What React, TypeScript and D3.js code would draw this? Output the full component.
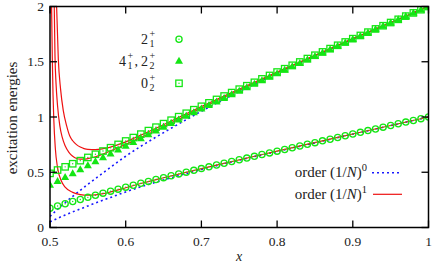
import React from 'react';
import * as d3 from 'd3';

// x grid of the marker series
const xGrid = [
  0.50, 0.51, 0.52, 0.53, 0.54, 0.55, 0.56, 0.57, 0.58, 0.59,
  0.60, 0.61, 0.62, 0.63, 0.64, 0.65, 0.66, 0.67, 0.68, 0.69,
  0.70, 0.71, 0.72, 0.73, 0.74, 0.75, 0.76, 0.77, 0.78, 0.79,
  0.80, 0.81, 0.82, 0.83, 0.84, 0.85, 0.86, 0.87, 0.88, 0.89,
  0.90, 0.91, 0.92, 0.93, 0.94, 0.95, 0.96, 0.97, 0.98, 0.99, 1.00,
];

// 2_1^+ (circles)
const state21 = [
  0.174, 0.195, 0.215, 0.235, 0.254, 0.273, 0.292, 0.311, 0.329, 0.347,
  0.365, 0.383, 0.400, 0.417, 0.434, 0.451, 0.468, 0.485, 0.501, 0.517,
  0.533, 0.549, 0.565, 0.581, 0.597, 0.613, 0.628, 0.644, 0.660, 0.675,
  0.691, 0.706, 0.722, 0.737, 0.753, 0.768, 0.784, 0.799, 0.815, 0.830,
  0.846, 0.861, 0.877, 0.892, 0.908, 0.923, 0.939, 0.954, 0.969, 0.985, 1.000,
];

// 4_1^+, 2_2^+ (triangles)
const state41 = [
  0.385, 0.420, 0.455, 0.490, 0.526, 0.562, 0.597, 0.633, 0.668, 0.703,
  0.738, 0.773, 0.807, 0.842, 0.876, 0.909, 0.943, 0.976, 1.009, 1.042,
  1.075, 1.107, 1.139, 1.171, 1.203, 1.235, 1.267, 1.299, 1.331, 1.362,
  1.394, 1.425, 1.457, 1.488, 1.519, 1.550, 1.581, 1.612, 1.642, 1.673,
  1.703, 1.733, 1.764, 1.794, 1.824, 1.854, 1.883, 1.913, 1.942, 1.971, 2.000,
];

// 0_2^+ (squares)
const state02 = [
  0.490, 0.520, 0.549, 0.577, 0.605, 0.634, 0.663, 0.692, 0.722, 0.752,
  0.783, 0.814, 0.845, 0.877, 0.908, 0.940, 0.971, 1.003, 1.034, 1.066,
  1.097, 1.128, 1.159, 1.190, 1.221, 1.252, 1.283, 1.314, 1.345, 1.376,
  1.407, 1.437, 1.468, 1.498, 1.529, 1.559, 1.589, 1.619, 1.649, 1.679,
  1.709, 1.738, 1.768, 1.797, 1.826, 1.855, 1.884, 1.913, 1.942, 1.971, 2.000,
];

// order (1/N)^0 curves
const zeroX = [0.50, 0.51, 0.52, 0.53, 0.54, 0.55, 0.56, 0.58, 0.60, 0.62, 0.64, 0.66, 0.68, 0.70, 0.75, 0.80, 0.85, 0.90, 0.95, 1.00];
const zeroLow = [0.050, 0.083, 0.113, 0.141, 0.168, 0.195, 0.221, 0.272, 0.322, 0.368, 0.410, 0.450, 0.488, 0.525, 0.610, 0.688, 0.766, 0.845, 0.922, 1.000];
const zeroHigh = [0.100, 0.165, 0.225, 0.282, 0.337, 0.390, 0.442, 0.545, 0.645, 0.735, 0.818, 0.898, 0.976, 1.052, 1.230, 1.395, 1.550, 1.705, 1.853, 2.000];

// order (1/N)^1 curves
const firstLowX = [0.5020, 0.503, 0.504, 0.505, 0.507, 0.510, 0.515, 0.520, 0.530, 0.540, 0.550, 0.560, 0.570, 0.580, 0.590, 0.600, 0.620, 0.650, 0.700, 0.800, 0.900, 1.000];
const firstLow = [2.05, 1.55, 1.20, 0.98, 0.72, 0.54, 0.42, 0.365, 0.318, 0.298, 0.292, 0.296, 0.306, 0.322, 0.340, 0.360, 0.398, 0.450, 0.533, 0.691, 0.846, 1.000];
const firstMidX = [0.5055, 0.5066, 0.508, 0.510, 0.513, 0.516, 0.520, 0.525, 0.530, 0.535, 0.540, 0.545, 0.550, 0.560, 0.570, 0.580, 0.590, 0.600, 0.620, 0.650, 0.700, 0.800, 0.900, 1.000];
const firstMid = [2.05, 1.55, 1.30, 1.10, 0.92, 0.82, 0.74, 0.68, 0.645, 0.625, 0.618, 0.618, 0.623, 0.640, 0.665, 0.693, 0.722, 0.752, 0.815, 0.912, 1.080, 1.400, 1.706, 2.000];
const firstHighX = [0.5085, 0.511, 0.514, 0.5175, 0.522, 0.526, 0.530, 0.535, 0.540, 0.545, 0.550, 0.560, 0.570, 0.580, 0.590, 0.600, 0.610, 0.620, 0.650, 0.700, 0.800, 0.900, 1.000];
const firstHigh = [2.05, 1.52, 1.25, 1.06, 0.92, 0.83, 0.785, 0.75, 0.728, 0.714, 0.707, 0.705, 0.713, 0.728, 0.750, 0.775, 0.805, 0.836, 0.930, 1.095, 1.407, 1.709, 2.000];

const xTicks = [0.5, 0.6, 0.7, 0.8, 0.9, 1];
const yTicks = [0, 0.5, 1, 1.5, 2];

const GREEN = '#14e614';
const FONT = '"Liberation Serif", "DejaVu Serif", serif';

const left = 50, right = 428.5, top = 6.5, bottom = 227.5;
const x = d3.scaleLinear().domain([0.5, 1]).range([left, right]);
const y = d3.scaleLinear().domain([0, 2]).range([bottom, top]);

const pathOf = (xs: number[], ys: number[]) =>
  d3.line<number>().x((_, i) => x(xs[i])).y(v => y(v)).curve(d3.curveMonotoneX)(ys) || '';

const Circle = ({ cx, cy }: { cx: number; cy: number }) => (
  <g>
    <circle cx={cx} cy={cy} r={3.1} fill="none" stroke={GREEN} strokeWidth={1.3} />
    <circle cx={cx} cy={cy} r={0.7} fill={GREEN} />
  </g>
);
const Tri = ({ cx, cy }: { cx: number; cy: number }) => (
  <path d={`M${cx},${cy - 4.2}L${cx + 4},${cy + 2.8}L${cx - 4},${cy + 2.8}Z`} fill={GREEN} />
);
const Sq = ({ cx, cy }: { cx: number; cy: number }) => (
  <g>
    <rect x={cx - 3.2} y={cy - 3.2} width={6.4} height={6.4} fill="none" stroke={GREEN} strokeWidth={1.3} />
    <circle cx={cx} cy={cy} r={0.7} fill={GREEN} />
  </g>
);

export default function App() {
  const tk = 7;
  return (
    <svg width={436} height={264} style={{ position: 'absolute', left: 0, top: 0, background: '#fff' }}
      fontFamily={FONT}>
      <defs>
        <clipPath id="plot">
          <rect x={left} y={top} width={right - left} height={bottom - top} />
        </clipPath>
      </defs>

      <g clipPath="url(#plot)">
        {[zeroLow, zeroHigh].map((s, i) => (
          <path key={'z' + i} d={pathOf(zeroX, s)} fill="none" stroke="#1a1aff" strokeWidth={1.6}
            strokeDasharray="2,3" />
        ))}
        <path d={pathOf(firstLowX, firstLow)} fill="none" stroke="#ee1111" strokeWidth={1.2} />
        <path d={pathOf(firstMidX, firstMid)} fill="none" stroke="#ee1111" strokeWidth={1.2} />
        <path d={pathOf(firstHighX, firstHigh)} fill="none" stroke="#ee1111" strokeWidth={1.2} />

        {xGrid.map((v, i) => <Circle key={'c' + i} cx={x(v)} cy={y(state21[i])} />)}
        {xGrid.map((v, i) => <Tri key={'t' + i} cx={x(v)} cy={y(state41[i])} />)}
        {xGrid.map((v, i) => <Sq key={'s' + i} cx={x(v)} cy={y(state02[i])} />)}
      </g>

      {/* ticks, mirrored on all sides */}
      <g stroke="#000" strokeWidth={1.3}>
        {xTicks.map(t => (
          <g key={'xt' + t}>
            <line x1={x(t)} x2={x(t)} y1={bottom} y2={bottom - tk} />
            <line x1={x(t)} x2={x(t)} y1={top} y2={top + tk} />
          </g>
        ))}
        {yTicks.map(t => (
          <g key={'yt' + t}>
            <line x1={left} x2={left + tk} y1={y(t)} y2={y(t)} />
            <line x1={right} x2={right - tk} y1={y(t)} y2={y(t)} />
          </g>
        ))}
      </g>
      <rect x={left} y={top} width={right - left} height={bottom - top} fill="none" stroke="#000" strokeWidth={1.5} />

      <g fill="#222" fontSize={13.5}>
        {xTicks.map(t => (
          <text key={'xl' + t} x={x(t)} y={246} textAnchor="middle">{t === 1 ? '1' : t.toFixed(1)}</text>
        ))}
        {yTicks.map(t => (
          <text key={'yl' + t} x={44} y={y(t) + 4.5} textAnchor="end">{t === 0 || t === 1 || t === 2 ? String(t) : t.toFixed(1)}</text>
        ))}
      </g>
      <text x={239} y={261} textAnchor="middle" fontSize={14} fontStyle="italic" fill="#222">x</text>
      <text transform="translate(17,118) rotate(-90)" textAnchor="middle" fontSize={15} fill="#222">excitation energies</text>

      {/* marker key */}
      <g fill="#222">
        <text x={148} y={44} textAnchor="end" fontSize={14}>2</text>
        <text x={149.5} y={37} fontSize={10}>+</text>
        <text x={149.5} y={47} fontSize={10}>1</text>

        <text x={126} y={66} textAnchor="end" fontSize={14}>4</text>
        <text x={127.5} y={59} fontSize={10}>+</text>
        <text x={127.5} y={69} fontSize={10}>1</text>
        <text x={134.5} y={66} fontSize={14}>,</text>
        <text x={148} y={66} textAnchor="end" fontSize={14}>2</text>
        <text x={149.5} y={59} fontSize={10}>+</text>
        <text x={149.5} y={69} fontSize={10}>2</text>

        <text x={148} y={88} textAnchor="end" fontSize={14}>0</text>
        <text x={149.5} y={81} fontSize={10}>+</text>
        <text x={149.5} y={91} fontSize={10}>2</text>
      </g>
      <Circle cx={179} cy={39.3} />
      <Tri cx={179} cy={61} />
      <Sq cx={179} cy={83.3} />

      {/* line key */}
      <g fill="#222" fontSize={15}>
        <text x={367} y={177} textAnchor="end">order (1/<tspan fontStyle="italic">N</tspan>)<tspan fontSize={10.5} dy={-6}>0</tspan></text>
        <text x={367} y={199} textAnchor="end">order (1/<tspan fontStyle="italic">N</tspan>)<tspan fontSize={10.5} dy={-6}>1</tspan></text>
      </g>
      <line x1={372} x2={400} y1={172.7} y2={172.7} stroke="#1a1aff" strokeWidth={1.6} strokeDasharray="2,3" />
      <line x1={373} x2={402} y1={194.3} y2={194.3} stroke="#ee1111" strokeWidth={1.2} />
    </svg>
  );
}
